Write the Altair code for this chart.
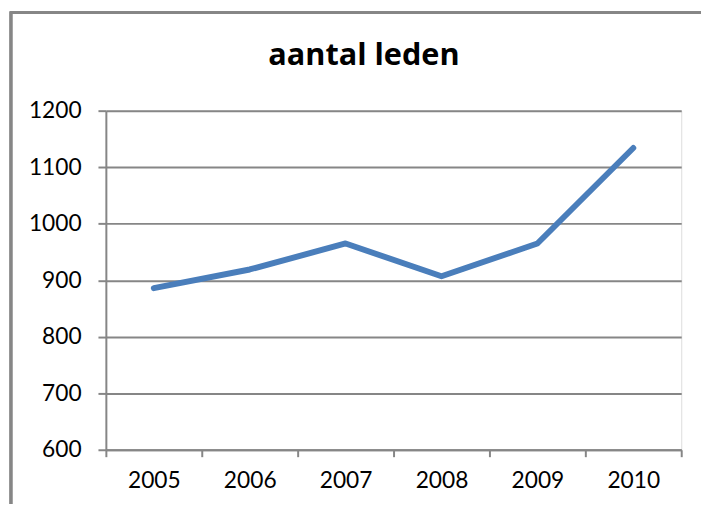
import altair as alt
import pandas as pd

years = [2005, 2006, 2007, 2008, 2009, 2010]
members = [886, 919, 965, 907, 965, 1134]
title_text = "aantal leden"
y_ticks = [600, 700, 800, 900, 1000, 1100, 1200]
x_ticks = [2004.5, 2005, 2005.5, 2006, 2006.5, 2007, 2007.5, 2008, 2008.5,
           2009, 2009.5, 2010, 2010.5]

df = pd.DataFrame({"jaar": years, "leden": members})

GRAY = "#868686"
FONT = "Lato"

line = alt.Chart(df).mark_line(color="#4a7ebb", strokeWidth=6, strokeCap="round",
                               strokeJoin="round").encode(
    x=alt.X("jaar:Q", scale=alt.Scale(domain=[2004.5, 2010.5], nice=False, zero=False),
            axis=alt.Axis(values=x_ticks, title=None, grid=False,
                          labelExpr="datum.value % 1 == 0 ? format(datum.value, 'd') : ''",
                          labelOverlap=False,
                          tickOpacity={"condition": {"test": "datum.value % 1 == 0", "value": 0}, "value": 1},
                          tickSize=7, tickWidth=2, tickColor=GRAY,
                          domainColor=GRAY, domainWidth=2,
                          labelPadding=13, labelFontSize=23, labelColor="#000000",
                          labelFont=FONT, labelFlush=False)),
    y=alt.Y("leden:Q", scale=alt.Scale(domain=[600, 1200], nice=False, zero=False),
            axis=alt.Axis(values=y_ticks, title=None, grid=True, gridColor=GRAY,
                          gridWidth=2, tickSize=8, tickWidth=2, tickColor=GRAY,
                          domainColor=GRAY, domainWidth=2, labelPadding=17,
                          labelFontSize=23, labelColor="#000000", labelFont=FONT,
                          format="d", labelOverlap=False)),
)

frame = alt.Chart(df).mark_rect(fill=None, stroke=GRAY, strokeWidth=2.5, clip=False).encode(
    x=alt.value(-96), x2=alt.value(700), y=alt.value(-99), y2=alt.value(500)
)

chart = alt.layer(frame, line).properties(
    width=582, height=343,
    autosize=alt.AutoSizeParams(type="none"),
    padding={"left": 99, "top": 101, "right": 20, "bottom": 52},
    title=alt.TitleParams(title_text, font="Open Sans", fontSize=31, fontWeight="bold",
                          color="#000000", anchor="middle", frame="group", dx=-30,
                          offset=-85, baseline="alphabetic"),
).configure_view(stroke=None).configure(background="white")

chart.save("out.html", embed_options={"renderer": "svg", "actions": False})
